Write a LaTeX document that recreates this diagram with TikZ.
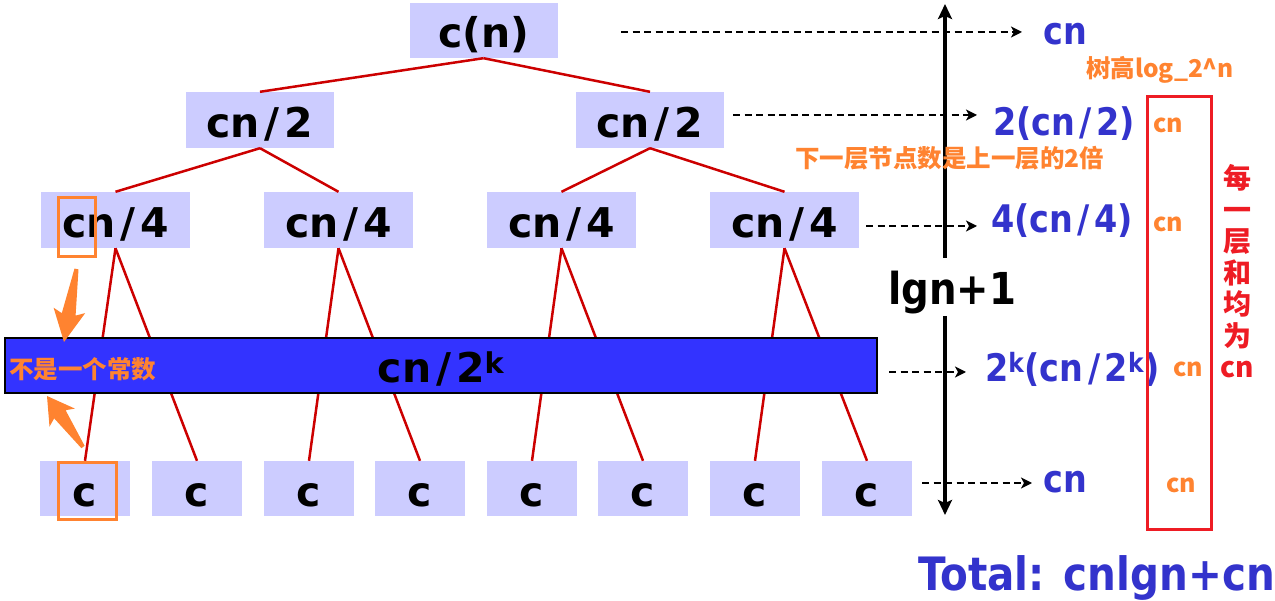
\documentclass[tikz,border=0pt]{standalone}
\usepackage{fontspec}
\usetikzlibrary{arrows.meta}
\newfontfamily\vbf{DejaVuSans-Bold.ttf}
\newfontfamily\vbfn{DejaVuSans-Bold.ttf}[FakeStretch=0.88]
\newfontfamily\cjk{Noto Sans CJK SC}
\definecolor{lav}{HTML}{CCCCFF}
\definecolor{blu}{HTML}{3333CC}
\definecolor{barblue}{HTML}{3333FF}
\definecolor{orng}{HTML}{FF8330}
\definecolor{redl}{HTML}{CC0000}
\definecolor{redb}{HTML}{EE1C24}
\newcommand{\sla}{\kern0.12em/\kern0.12em}
\begin{document}
\begin{tikzpicture}[x=1pt,y=-1pt,
  treebox/.style={fill=lav, inner sep=0pt, text depth=10pt,
    font={\vbf\fontsize{41pt}{41pt}\selectfont}},
  edge/.style={draw=redl, line width=2.5pt},
  bl/.style={text=blu, anchor=base west, inner sep=0pt,
    font={\vbfn\fontsize{38pt}{38pt}\selectfont}},
  ocjk/.style={text=orng, anchor=base west, inner sep=0pt,
    font={\cjk\bfseries\fontsize{24.5pt}{24.5pt}\selectfont}},
  ocn/.style={text=orng, anchor=base west, inner sep=0pt,
    font={\cjk\bfseries\fontsize{25pt}{25pt}\selectfont}},
  dasharr/.style={draw=black, line width=1.8pt, dash pattern=on 7pt off 4.5pt,
    -{Stealth[length=11pt,width=11pt,inset=3pt]}},
  vax/.style={draw=black, line width=4.5pt, -{Stealth[length=15pt,width=14pt,inset=3pt]}},
  obox/.style={draw=orng, line width=3pt, inner sep=0pt}
]
\useasboundingbox (0,0) rectangle (1275,601);

% tree nodes
\node[treebox, minimum width=148pt, text height=45pt] (root) at (483.5,30.5) {c(n)};
\node[treebox, minimum width=148pt, text height=46pt] (l2a) at (260,120) {cn\sla 2};
\node[treebox, minimum width=148pt, text height=46pt] (l2b) at (650,120) {cn\sla 2};
\foreach \x [count=\i] in {115.5,338.5,561.5,784.5}
  \node[treebox, minimum width=149pt, text height=46pt] (l3\i) at (\x,220) {cn\sla 4};
\foreach \x [count=\i] in {85,197,309,420,532,643,755,867}
  \node[treebox, minimum width=90pt, text height=45pt] (f\i) at (\x,488.5) {c};

% edges
\draw[edge] (root.south) -- (l2a.north);
\draw[edge] (root.south) -- (l2b.north);
\draw[edge] (l2a.south) -- (l31.north);
\draw[edge] (l2a.south) -- (l32.north);
\draw[edge] (l2b.south) -- (l33.north);
\draw[edge] (l2b.south) -- (l34.north);
\draw[edge] (l31.south) -- (f1.north);
\draw[edge] (l31.south) -- (f2.north);
\draw[edge] (l32.south) -- (f3.north);
\draw[edge] (l32.south) -- (f4.north);
\draw[edge] (l33.south) -- (f5.north);
\draw[edge] (l33.south) -- (f6.north);
\draw[edge] (l34.south) -- (f7.north);
\draw[edge] (l34.south) -- (f8.north);

% blue bar
\node[fill=barblue, draw=black, line width=2pt, minimum width=872pt, inner sep=0pt,
  text height=45pt, text depth=10pt,
  font={\vbf\fontsize{41pt}{41pt}\selectfont}] (bar) at (441,365.5) {cn\sla 2\textsuperscript{k}};
\node[ocjk] (nc) at (9,379) {不是一个常数};

% dashed arrows
\coordinate (s1) at (621,32);  \coordinate (e1) at (1022,32);
\coordinate (s2) at (733,115); \coordinate (e2) at (977,115);
\coordinate (s3) at (866,226); \coordinate (e3) at (977,226);
\coordinate (s4) at (889,372); \coordinate (e4) at (966,372);
\coordinate (s5) at (922,483); \coordinate (e5) at (1032,483);
\draw[dasharr] (s1) -- (e1);
\draw[dasharr] (s2) -- (e2);
\draw[dasharr] (s3) -- (e3);
\draw[dasharr] (s4) -- (e4);
\draw[dasharr] (s5) -- (e5);

% right labels
\node[bl] (t1) at (1043,45) {cn};
\node[bl] (t2) at (993,136) {2(cn\sla 2)};
\node[bl] (t3) at (991,233) {4(cn\sla 4)};
\node[bl] (t4) at (985,382) {2\textsuperscript{k}(cn\sla 2\textsuperscript{k})};
\node[bl] (t5) at (1043,493) {cn};
\node[bl, font={\vbfn\fontsize{46pt}{46pt}\selectfont}] (tot) at (918,590) {Total: cnlgn+cn};

% vertical axis
\coordinate (v1) at (945,258); \coordinate (v2) at (945,4);
\coordinate (v3) at (945,316); \coordinate (v4) at (945,515);
\draw[vax] (v1) -- (v2);
\draw[vax] (v3) -- (v4);
\node[anchor=base, inner sep=0pt, font={\vbfn\fontsize{44pt}{44pt}\selectfont}] (lg) at (952,305) {lgn+1};

% orange notes
\node[ocjk] (sg) at (1086,78) {树高log\char95 2\char94 n};
\node[ocjk] (xy) at (795,168) {下一层节点数是上一层的2倍};

% red box and labels
\node[draw=redb, line width=3pt, minimum width=64pt, minimum height=432pt, inner sep=0pt] (rb) at (1179,313) {};
\node[ocn] (c1) at (1153,133) {cn};
\node[ocn] (c2) at (1153,232) {cn};
\node[ocn] (c3) at (1173,377) {cn};
\node[ocn] (c4) at (1166,493) {cn};
\foreach \t [count=\i from 0] in {每,一,层,和,均,为,cn}
  \node[anchor=base, inner sep=0pt, text=redb, font={\cjk\bfseries\fontsize{28pt}{28pt}\selectfont}] (rv\i) at (1237,{189+31.5*\i}) {\t};

% orange highlight boxes and arrows
\node[obox, minimum width=37pt, minimum height=59pt] (ob1) at (76.5,227.5) {};
\node[obox, minimum width=58pt, minimum height=56pt] (ob2) at (87,491) {};
\fill[orng] (78.5,269.4) -- (75.6,315.6) -- (85.2,313.1) -- (64,342)
  -- (53.6,307.7) -- (61.8,313.2) -- (74.5,268.6) -- cycle;
\fill[orng] (84.6,445.8) -- (65.6,410.2) -- (74.9,408.6) -- (47,396)
  -- (49.5,426.6) -- (54.2,418.4) -- (81.4,448.2) -- cycle;
\end{tikzpicture}
\end{document}
